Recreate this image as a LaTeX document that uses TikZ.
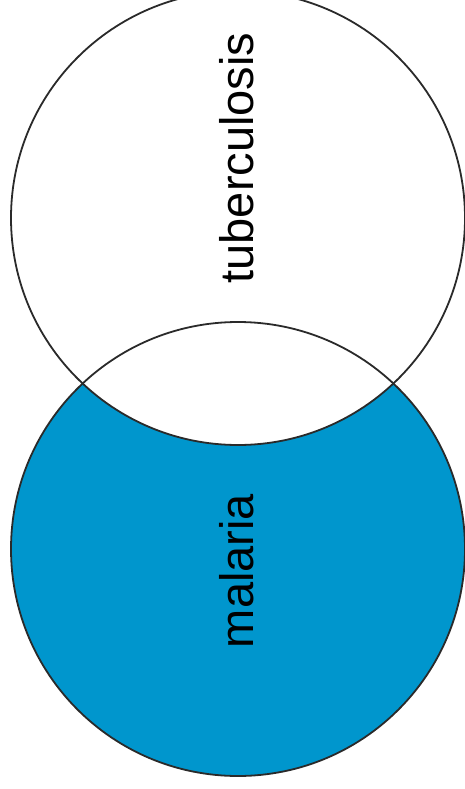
\documentclass[tikz,border=0pt]{standalone}
\usepackage{fontspec}
\setmainfont{Liberation Sans}
\definecolor{malblue}{HTML}{0096CD}
\definecolor{edgegray}{HTML}{2A2A2A}
\begin{document}
\begin{tikzpicture}[x=1pt,y=-1pt,
  ring/.style={draw=edgegray,line width=1.8pt},
  lbl/.style={rotate=90,anchor=base,inner sep=0pt,font=\fontsize{47}{47}\selectfont}]
\useasboundingbox (0,0) rectangle (465,789);
\coordinate (ct) at (238,218);
\coordinate (cb) at (238,549);
\fill[malblue] (cb) circle[radius=227];
\fill[white] (ct) circle[radius=227];
\draw[ring] (ct) circle[radius=227];
\draw[ring] (cb) circle[radius=227];
\node[lbl] (tb) at (253,158) {tuberculosis};
\node[lbl] (ml) at (253,571) {malaria};
\end{tikzpicture}
\end{document}
